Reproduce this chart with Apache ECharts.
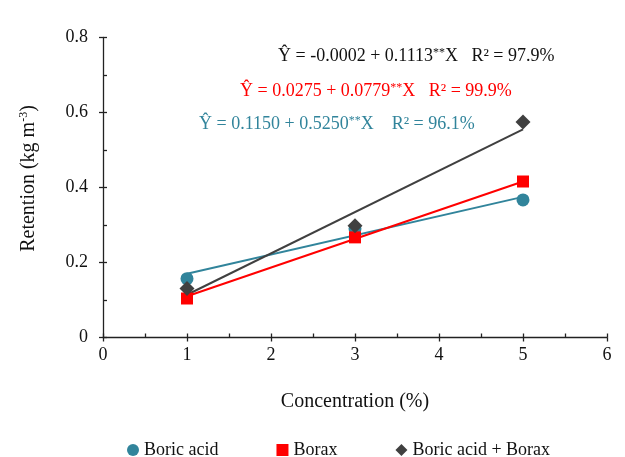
<!DOCTYPE html>
<html><head><meta charset="utf-8">
<script src="https://cdn.jsdelivr.net/npm/echarts@6/dist/echarts.min.js"></script>
<style>html,body{margin:0;padding:0;background:#fff}#c{width:625px;height:457px}</style>
</head><body><div id="c"></div>
<script>
const concentrations = [1, 3, 5];
const boricAcid = [0.157, 0.290, 0.367];
const borax = [0.104, 0.267, 0.416];
const mixture = [0.131, 0.298, 0.575];
const trendX = [1, 5];
const boricAcidTrend = [0.170, 0.375];
const boraxTrend = [0.110, 0.416];
const mixtureTrend = [0.114, 0.555];
const xTicks = [0, 1, 2, 3, 4, 5, 6];
const yTicks = [0, 0.2, 0.4, 0.6, 0.8];

const FONT = '"Liberation Serif", "Times New Roman", serif';
const cTeal = '#31849B', cRed = '#FF0000', cDark = '#404040';
const axisColor = '#222';
const pairs = (xs, ys) => xs.map((x, i) => [x, ys[i]]);

const chart = echarts.init(document.getElementById('c'));
const grid = {left: 103, right: 18, top: 37.5, bottom: 119.5};
const axisCommon = (extra) => Object.assign({
  type: 'value', splitLine: {show: false}
}, extra);
const innerAxis = (min, max, interval, position) => axisCommon({
  min: min, max: max, interval: interval, position: position,
  axisLine: {show: true, onZero: false, lineStyle: {color: 'rgba(0,0,0,0)', width: 0}},
  axisTick: {show: true, inside: true, length: 4, lineStyle: {color: axisColor, width: 1.3}},
  minorTick: {show: true, splitNumber: 2, length: 4, lineStyle: {color: axisColor, width: 1.3}},
  axisLabel: {show: false}
});

chart.setOption({
  animation: false,
  textStyle: {fontFamily: FONT},
  grid: grid,
  xAxis: [
    axisCommon({min: 0, max: 6, interval: 1,
      axisLine: {lineStyle: {color: axisColor, width: 1.3}},
      axisTick: {show: true, length: 4, lineStyle: {color: axisColor, width: 1.3}},
      axisLabel: {color: '#111', fontSize: 18, fontFamily: FONT, margin: 9,
        formatter: v => xTicks.includes(v) ? String(v) : ''},
      name: 'Concentration (%)', nameLocation: 'middle', nameGap: 54,
      nameTextStyle: {color: '#111', fontSize: 20, fontFamily: FONT}
    }),
    innerAxis(0, 6, 1, 'bottom')
  ],
  yAxis: [
    axisCommon({min: 0, max: 0.8, interval: 0.2,
      axisLine: {show: true, lineStyle: {color: axisColor, width: 1.3}},
      axisTick: {show: true, length: 4, lineStyle: {color: axisColor, width: 1.3}},
      axisLabel: {color: '#111', fontSize: 18, fontFamily: FONT, margin: 15,
        formatter: v => { const t = yTicks.find(k => Math.abs(k - v) < 1e-9); return t === undefined ? '' : (t === 0 ? '0' : t.toFixed(1)); }},
      name: '{a|Retention (kg m}{s|-3}{a|)}', nameLocation: 'middle', nameGap: 64, nameRotate: 90,
      nameTextStyle: {padding: [0, 0, 0, 18], rich: {
        a: {color: '#111', fontSize: 20, fontFamily: FONT},
        s: {color: '#111', fontSize: 12, fontFamily: FONT, verticalAlign: 'top', padding: [0, 0, 9, 0]}
      }}
    }),
    innerAxis(0, 0.8, 0.2, 'left')
  ],
  legend: {
    top: 436, left: 122, itemGap: 58, itemWidth: 12, itemHeight: 12,
    textStyle: {fontSize: 18, fontFamily: FONT, color: '#111'},
    data: [
      {name: 'Boric acid', icon: 'circle', itemStyle: {color: cTeal, opacity: 1}},
      {name: 'Borax', icon: 'rect', itemStyle: {color: cRed, opacity: 1}},
      {name: 'Boric acid + Borax', icon: 'diamond', itemStyle: {color: cDark, opacity: 1}}
    ]
  },
  series: [
    {name: 'BA trend', type: 'line', data: pairs(trendX, boricAcidTrend), symbol: 'none',
      lineStyle: {color: cTeal, width: 2}, silent: true, z: 2},
    {name: 'Borax trend', type: 'line', data: pairs(trendX, boraxTrend), symbol: 'none',
      lineStyle: {color: cRed, width: 2}, silent: true, z: 2},
    {name: 'Mix trend', type: 'line', data: pairs(trendX, mixtureTrend), symbol: 'none',
      lineStyle: {color: cDark, width: 2}, silent: true, z: 2},
    {name: 'Boric acid', type: 'scatter', data: pairs(concentrations, boricAcid), symbol: 'circle',
      symbolSize: 13, itemStyle: {color: cTeal, opacity: 1}, z: 3},
    {name: 'Borax', type: 'scatter', data: pairs(concentrations, borax), symbol: 'rect',
      symbolSize: 12, itemStyle: {color: cRed, opacity: 1}, z: 4},
    {name: 'Boric acid + Borax', type: 'scatter', data: pairs(concentrations, mixture), symbol: 'diamond',
      symbolSize: [15, 15], itemStyle: {color: cDark, opacity: 1}, z: 5}
  ],
  graphic: [
    {type: 'text', left: 278, top: 47, style: {
      text: '{a|Ŷ = -0.0002 + 0.1113}{s|**}{a|X   R² = 97.9%}',
      rich: {a: {fontSize: 18, fontFamily: FONT, fill: '#111'}, s: {fontSize: 12, fontFamily: FONT, fill: '#111', verticalAlign: 'top', padding: [0,0,7,0]}}}},
    {type: 'text', left: 240, top: 82, style: {
      text: '{a|Ŷ = 0.0275 + 0.0779}{s|**}{a|X   R² = 99.9%}',
      rich: {a: {fontSize: 18, fontFamily: FONT, fill: cRed}, s: {fontSize: 12, fontFamily: FONT, fill: cRed, verticalAlign: 'top', padding: [0,0,7,0]}}}},
    {type: 'text', left: 199, top: 115, style: {
      text: '{a|Ŷ = 0.1150 + 0.5250}{s|**}{a|X    R² = 96.1%}',
      rich: {a: {fontSize: 18, fontFamily: FONT, fill: cTeal}, s: {fontSize: 12, fontFamily: FONT, fill: cTeal, verticalAlign: 'top', padding: [0,0,7,0]}}}}
  ]
});
</script></body></html>
